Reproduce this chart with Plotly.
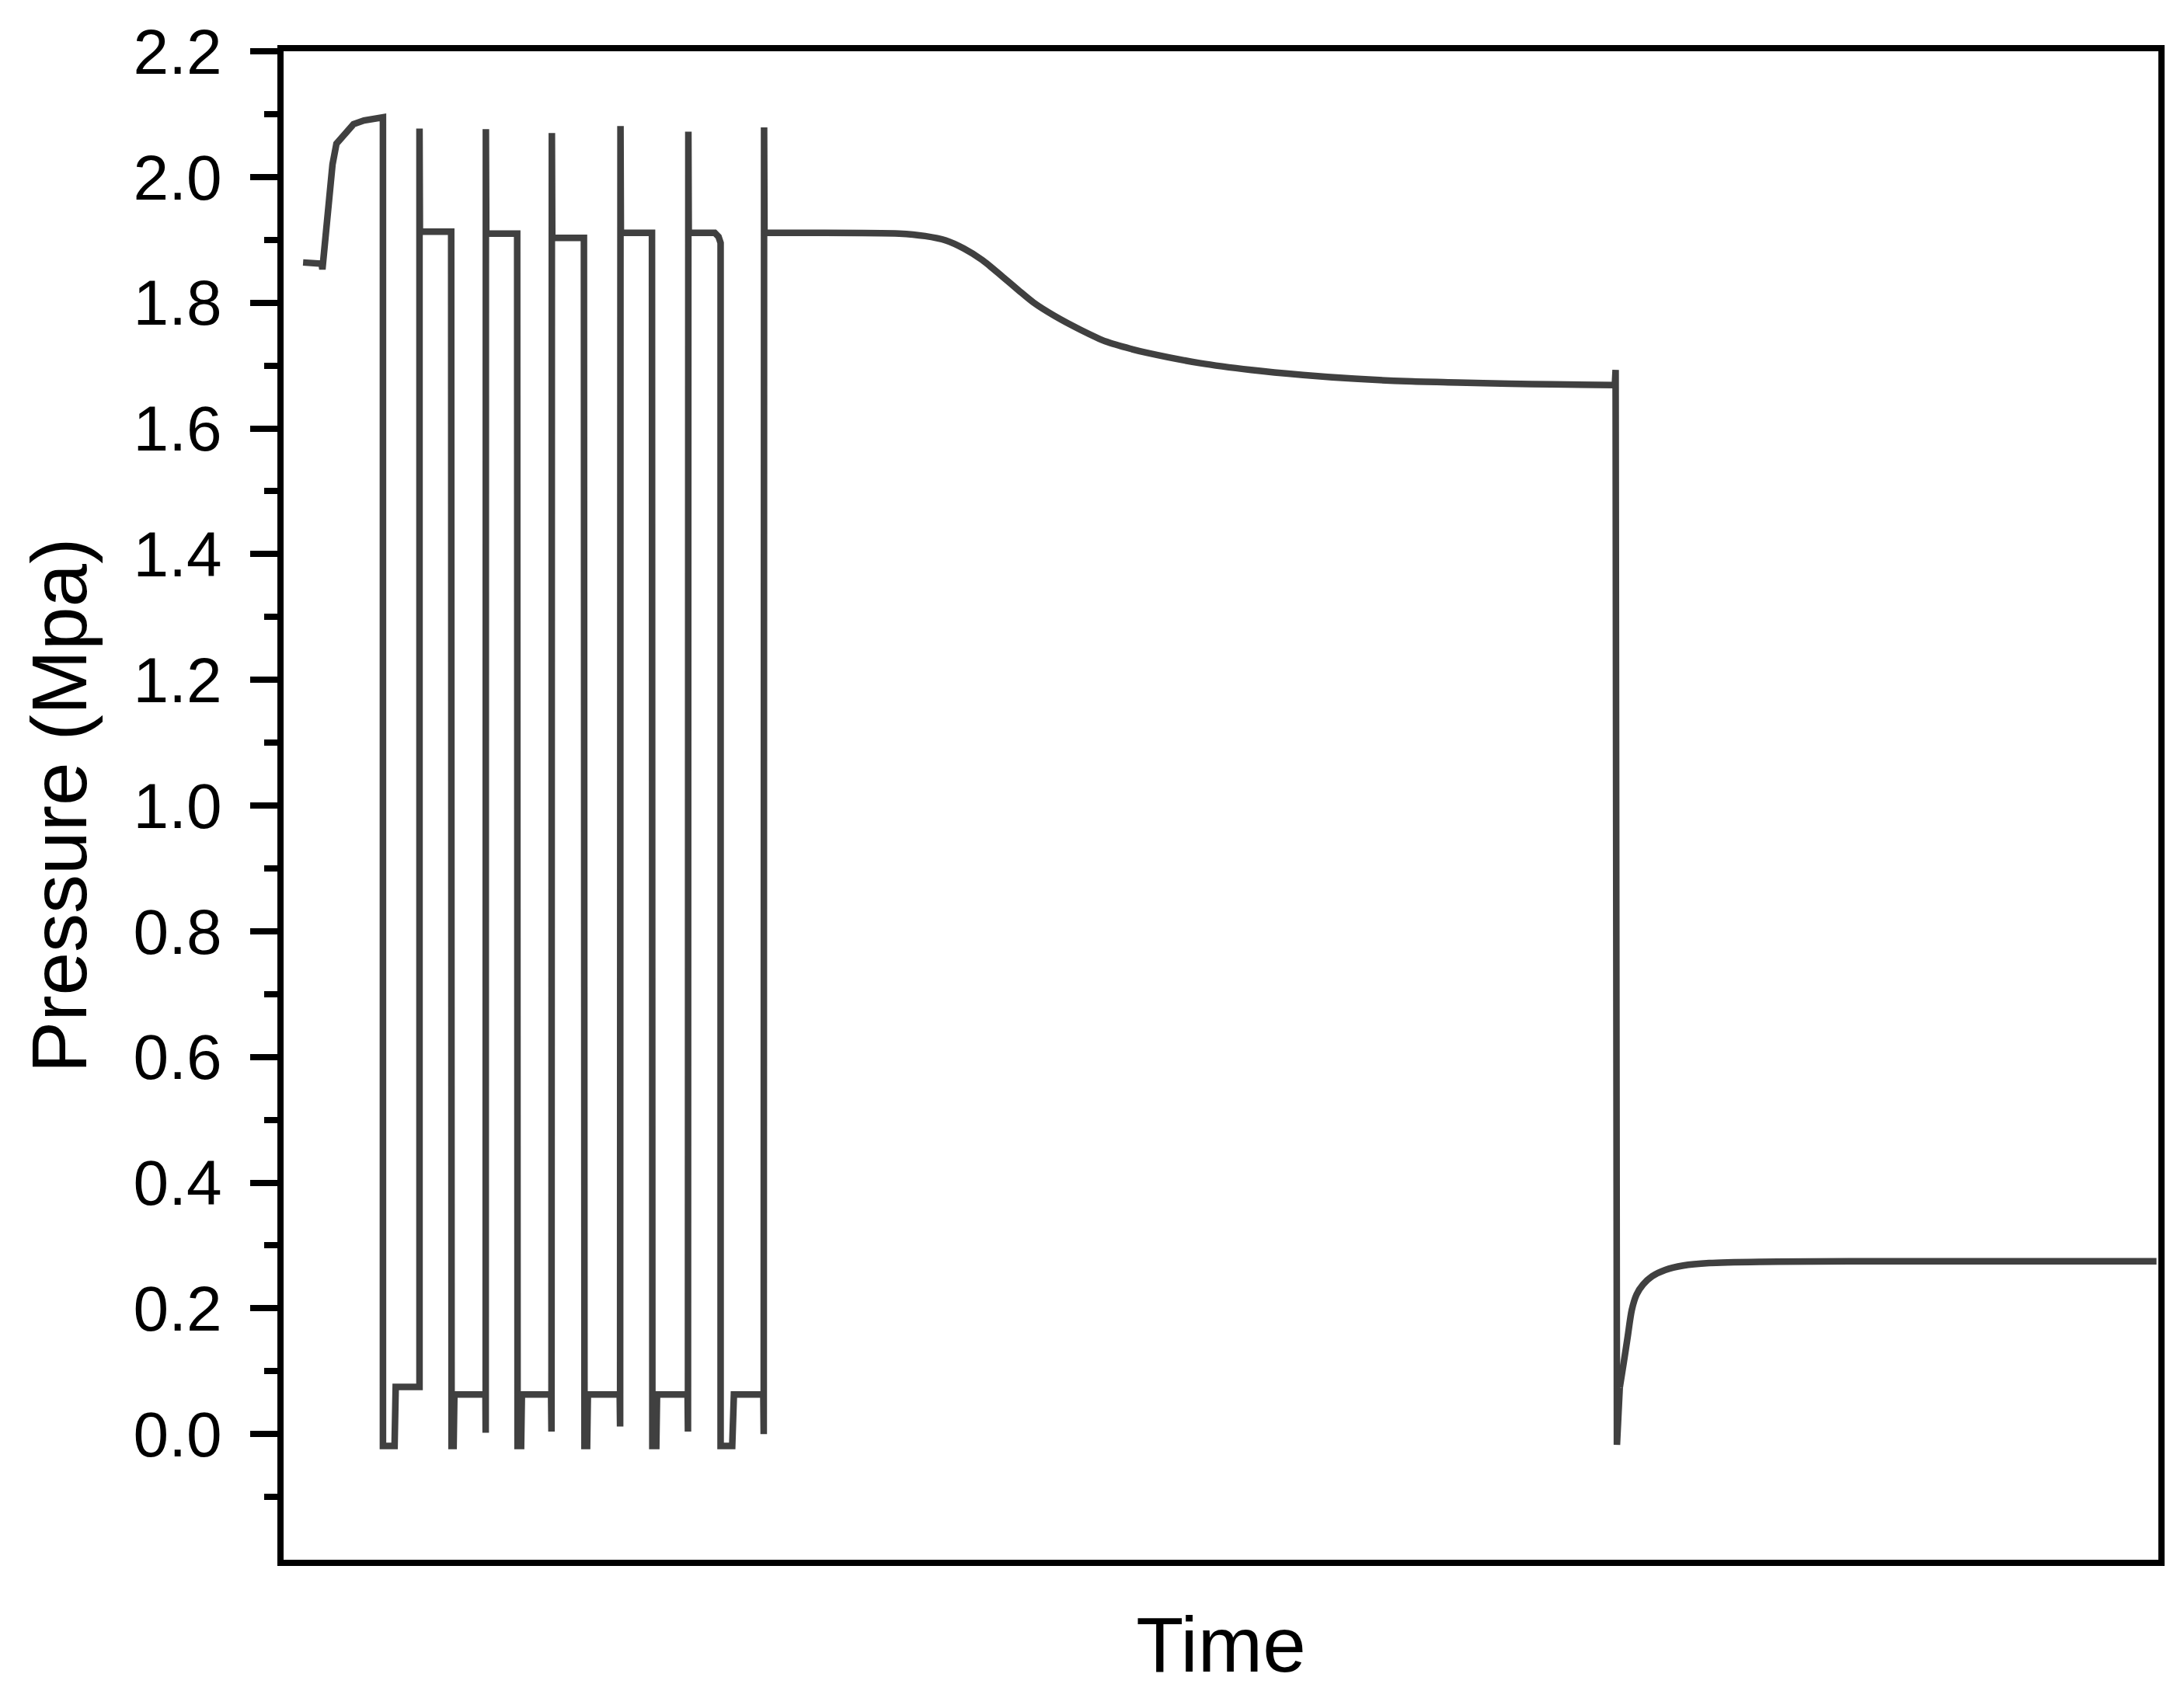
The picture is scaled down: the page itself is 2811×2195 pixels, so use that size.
import plotly.graph_objects as go

# time in arbitrary units (axis has no tick labels), pressure in MPa
time_s = [
    1.04, 2.03, 2.07, 2.36, 2.61, 2.82, 3.11, 3.27, 3.73, 4.29, 5.22, 5.30, 5.30,
    5.92, 5.98, 7.25, 7.25, 7.27,
    8.94, 8.96, 9.07, 9.11, 10.77, 10.78, 10.79, 10.81,
    12.46, 12.48, 12.67, 12.71, 14.27, 14.29, 14.31, 14.33,
    16.02, 16.05, 16.19, 16.23, 17.93, 17.95, 17.97, 17.99,
    19.65, 19.67, 19.88, 19.92, 21.55, 21.57, 21.59, 21.61,
    23.00, 23.20, 23.31, 23.31, 23.93, 24.02, 25.59, 25.61, 25.63, 25.65,
    32.84, 34.22, 35.32, 36.29, 37.26, 38.36, 39.19, 40.01, 41.12, 42.50,
    43.88, 45.26, 46.09, 48.85, 51.61, 54.37, 57.13, 59.89, 62.65, 65.41,
    67.62, 71.01, 71.05, 71.12, 71.27, 71.49, 71.70, 71.91, 72.17, 72.52,
    73.00, 73.69, 74.66, 76.04, 78.80, 87.08, 99.90,
]
pressure_mpa = [
    1.864, 1.862, 1.853, 1.958, 2.020, 2.053, 2.062, 2.069, 2.084, 2.090, 2.095, 2.095, -0.019,
    -0.019, 0.075, 0.075, 2.077, 1.913,
    1.913, -0.019, -0.019, 0.063, 0.063, 0.002, 2.076, 1.910,
    1.910, -0.019, -0.019, 0.063, 0.063, 0.004, 2.070, 1.903,
    1.903, -0.019, -0.019, 0.063, 0.063, 0.012, 2.081, 1.911,
    1.911, -0.019, -0.019, 0.063, 0.063, 0.004, 2.072, 1.911,
    1.911, 1.905, 1.895, -0.019, -0.019, 0.063, 0.063, 0.000, 2.079, 1.911,
    1.910, 1.906, 1.899, 1.886, 1.868, 1.841, 1.820, 1.800, 1.779, 1.757,
    1.738, 1.726, 1.720, 1.704, 1.693, 1.685, 1.679, 1.675, 1.673, 1.671,
    1.670, 1.669, 1.693, -0.017, 0.074, 0.115, 0.156, 0.197, 0.222, 0.238,
    0.251, 0.261, 0.268, 0.272, 0.274, 0.275, 0.275,
]

y_major = [0.0, 0.2, 0.4, 0.6, 0.8, 1.0, 1.2, 1.4, 1.6, 1.8, 2.0, 2.2]
y_minor = [-0.1, 0.1, 0.3, 0.5, 0.7, 0.9, 1.1, 1.3, 1.5, 1.7, 1.9, 2.1]

FONT = "Liberation Sans, Arial, sans-serif"
LINE = dict(color="#404040", width=8.5)

# the slow decay and the recovery are smooth curves, the valve cycling is sharp
i_decay0 = time_s.index(25.65)
i_decay1 = time_s.index(71.01)
i_rec0 = time_s.index(71.27)

segments = [
    (0, i_decay0 + 1, "linear"),
    (i_decay0, i_decay1 + 1, "spline"),
    (i_decay1, i_rec0 + 1, "linear"),
    (i_rec0, len(time_s), "spline"),
]

fig = go.Figure()
for a, b, shape in segments:
    fig.add_trace(go.Scatter(
        x=time_s[a:b],
        y=pressure_mpa[a:b],
        mode="lines",
        line=dict(LINE, shape=shape, smoothing=0.8) if shape == "spline" else LINE,
        showlegend=False,
    ))

fig.update_layout(
    width=2811,
    height=2195,
    paper_bgcolor="white",
    plot_bgcolor="white",
    font=dict(family=FONT, color="black"),
    margin=dict(l=357, r=41, t=58, b=195),
    xaxis=dict(
        range=[0, 100],
        showgrid=False, zeroline=False,
        showline=True, mirror=True, linecolor="black", linewidth=8,
        ticks="", showticklabels=False,
        title=dict(text="Time", font=dict(family=FONT, size=100, color="black"), standoff=70),
    ),
    yaxis=dict(
        range=[-0.2, 2.2],
        showgrid=False, zeroline=False,
        showline=True, mirror=True, linecolor="black", linewidth=8,
        tickmode="array", tickvals=y_major, tickformat=".1f",
        ticks="outside", ticklen=35, tickwidth=7.5, tickcolor="black",
        tickfont=dict(family=FONT, size=82, color="black"),
        ticklabelstandoff=20,
        minor=dict(tickmode="array", tickvals=y_minor, ticks="outside",
                   ticklen=17, tickwidth=7.5, tickcolor="black"),
        title=dict(text="Pressure (Mpa)", font=dict(family=FONT, size=100, color="black"), standoff=30),
    ),
)

fig.write_html("out.html")
